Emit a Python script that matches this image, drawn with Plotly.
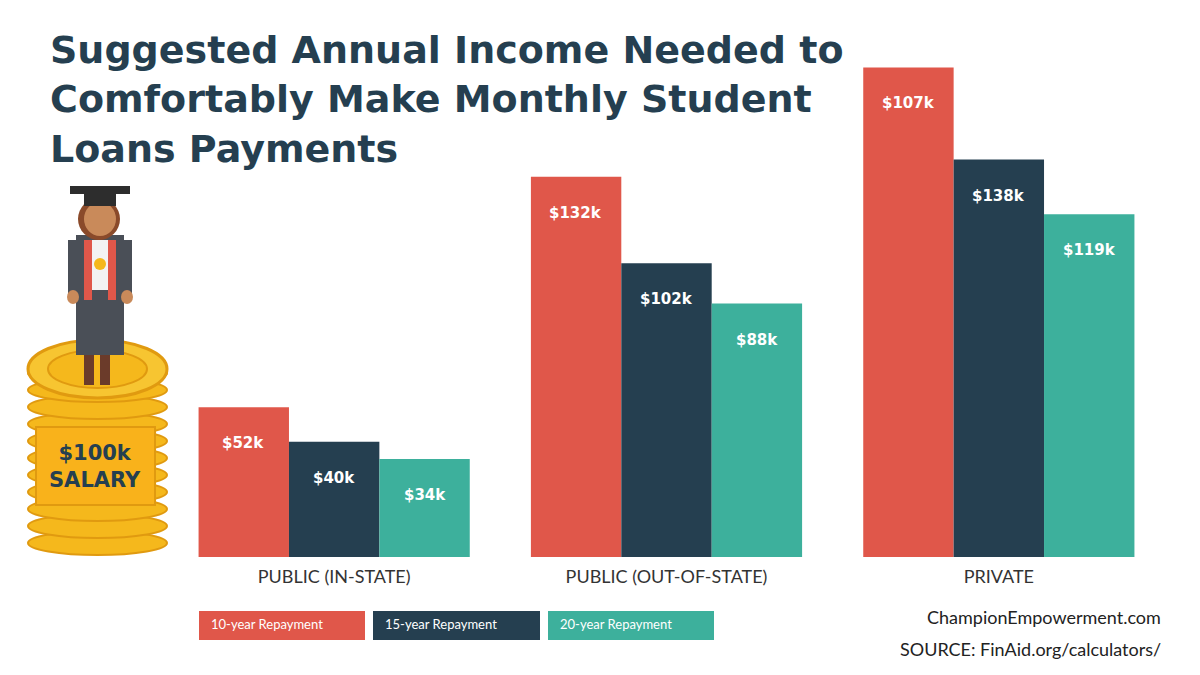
import plotly.graph_objects as go

categories = ["PUBLIC (IN-STATE)", "PUBLIC (OUT-OF-STATE)", "PRIVATE"]
series = ["10-year Repayment", "15-year Repayment", "20-year Repayment"]
# bar heights as drawn in the picture (thousands of dollars)
heights = {
    "10-year Repayment": [52, 132, 170],
    "15-year Repayment": [40, 102, 138],
    "20-year Repayment": [34, 88, 119],
}
# labels as printed on the bars
labels = {
    "10-year Repayment": ["$52k", "$132k", "$107k"],
    "15-year Repayment": ["$40k", "$102k", "$138k"],
    "20-year Repayment": ["$34k", "$88k", "$119k"],
}
colors = {"10-year Repayment": "#e0574a", "15-year Repayment": "#253f50", "20-year Repayment": "#3db09c"}
NAVY = "#253f50"
W, H = 1200, 675
L, B, PW, PH = 160, 126, 997, 549  # plot area in figure pixels


def px(x, y):
    # screenshot pixel -> paper coords (page has an 8px body margin)
    return (x - 8 - L) / PW, (PH - (y - 8)) / PH


fig = go.Figure()
for s in series:
    fig.add_trace(go.Bar(x=categories, y=heights[s], name=s, marker_color=colors[s],
                         marker_line_width=0, showlegend=False, hoverinfo="skip"))

# bar value labels
offsets = [-1, 0, 1]
for s, off in zip(series, offsets):
    for i, c in enumerate(categories):
        fig.add_annotation(x=i + off * 0.2733, y=heights[s][i], xref="x", yref="y",
                           text=f"<b>{labels[s][i]}</b>", showarrow=False, yanchor="top", yshift=-25,
                           font=dict(family="DejaVu Sans", size=15, color="white"))

shapes = []


def rect(a, b, c, d, col, line=None):
    x0, y0 = px(a, b); x1, y1 = px(c, d)
    shapes.append(dict(type="rect", xref="paper", yref="paper", x0=x0, x1=x1, y0=y1, y1=y0,
                       fillcolor=col, line=line or dict(width=0)))


def circ(a, b, c, d, col, line=None):
    x0, y0 = px(a, b); x1, y1 = px(c, d)
    shapes.append(dict(type="circle", xref="paper", yref="paper", x0=x0, x1=x1, y0=y1, y1=y0,
                       fillcolor=col, line=line or dict(width=0)))


def note(x, y, text, size, color, family="Lato", xanchor="center", yanchor="middle", align="center"):
    xx, yy = px(x, y)
    fig.add_annotation(x=xx, y=yy, xref="paper", yref="paper", text=text, showarrow=False,
                       xanchor=xanchor, yanchor=yanchor, align=align,
                       font=dict(family=family, size=size, color=color))


# coin stack
for k in range(11):
    yb = 555 - k * 17
    circ(28, yb - 24, 167, yb, "#f5b81c", dict(color="#e09a10", width=2))
circ(28, 340, 167, 398, "#f7c531", dict(color="#e09a10", width=3))
circ(48, 350, 147, 388, "#f5b81c", dict(color="#e09a10", width=2))
# salary box
rect(36, 427, 155, 505, "#f9b21b", dict(color="#e09a10", width=2))
# graduate figure
rect(84, 330, 94, 385, "#6b3b2a")
rect(100, 330, 110, 385, "#6b3b2a")
rect(76, 235, 124, 355, "#4a4f57")
rect(90, 240, 110, 290, "#f3f3f3")
rect(84, 240, 92, 300, "#e0574a")
rect(108, 240, 116, 300, "#e0574a")
rect(68, 240, 78, 298, "#4a4f57")
rect(122, 240, 132, 298, "#4a4f57")
circ(67, 290, 79, 304, "#c98a5a")
circ(121, 290, 133, 304, "#c98a5a")
circ(78, 198, 120, 240, "#8a4a2a")
circ(84, 202, 116, 236, "#c98a5a")
rect(70, 186, 130, 194, "#2d2d2d")
rect(84, 192, 116, 206, "#2d2d2d")
circ(94, 258, 106, 270, "#f5b81c")

# legend boxes
leg_x = [(199, 365), (373, 540), (548, 714)]
for s, (a, b) in zip(series, leg_x):
    rect(a, 611, b, 640, colors[s])
    note(a + 10, 624, s, 13, "white", xanchor="left")

note(95, 466, "<b>$100k<br>SALARY</b>", 21, NAVY, family="DejaVu Sans")
note(48, 26, "<b>Suggested Annual Income Needed to<br>Comfortably Make Monthly Student<br>Loans Payments</b>",
     38, NAVY, family="DejaVu Sans", xanchor="left", yanchor="top", align="left")
note(1163, 617, "ChampionEmpowerment.com", 18, "#222", xanchor="right")
note(1163, 649, "SOURCE: FinAid.org/calculators/", 18, "#222", xanchor="right")

fig.update_layout(
    width=W, height=H, barmode="group", bargap=0.184, bargroupgap=0.0,
    plot_bgcolor="white", paper_bgcolor="white",
    margin=dict(l=L, r=W - L - PW, t=0, b=B), shapes=shapes,
)
fig.update_xaxes(showgrid=False, showline=False, ticks="", ticklabelstandoff=7,
                 tickfont=dict(family="Lato", size=18, color="#333"))
fig.update_yaxes(range=[0, PH / 2.88], visible=False)
fig.write_html("out.html")
